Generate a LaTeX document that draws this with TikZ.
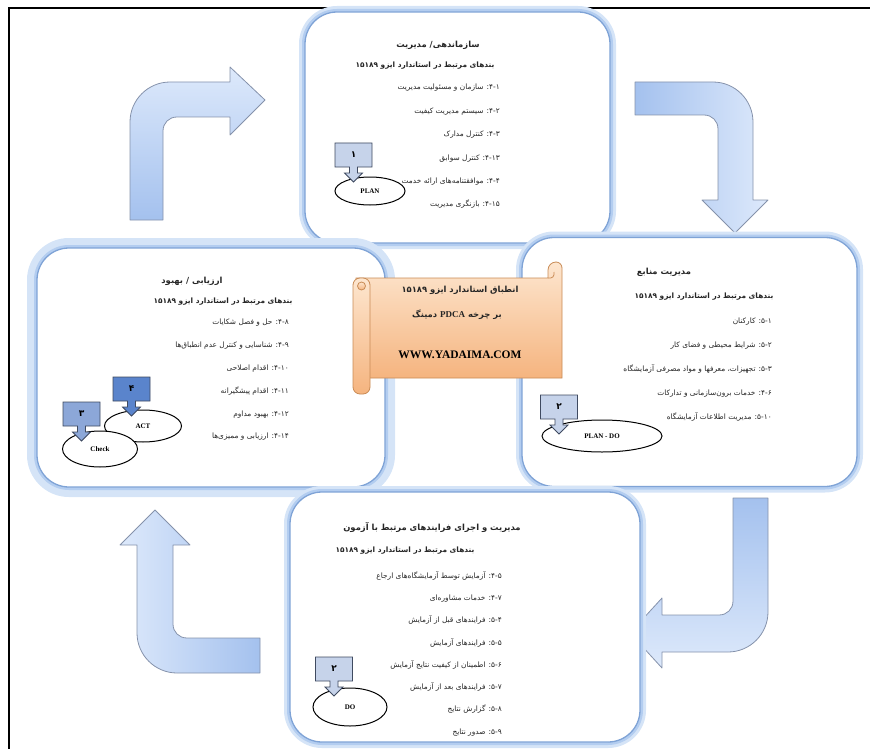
\documentclass[tikz,border=0pt]{standalone}
\usepackage{fontspec}
\setmainfont{Liberation Serif}
\newfontfamily\fa[Script=Arabic]{DejaVu Sans}
\TeXXeTstate=1
\newcommand\rline[1]{\beginR #1\endR}
\usetikzlibrary{shapes.geometric}

\definecolor{panelline}{HTML}{7FA3D6}
\definecolor{panelglow}{HTML}{B3CDF0}
\definecolor{arrowdeep}{HTML}{A4C1EE}
\definecolor{arrowpale}{HTML}{DDE9FB}
\definecolor{arrowedge}{HTML}{8592AB}
\definecolor{scrolltop}{HTML}{FDE6CF}
\definecolor{scrollbot}{HTML}{F5B47F}
\definecolor{scrolledge}{HTML}{C98B55}
\definecolor{tagline}{HTML}{3F4A60}
\definecolor{tagpale}{HTML}{C6D3EA}
\definecolor{tagmid}{HTML}{8CA7D8}
\definecolor{tagdeep}{HTML}{5A84CC}
\definecolor{inkgray}{HTML}{262626}

\tikzset{
  panel/.style={rounded corners=32pt, fill=white, draw=panelline, line width=1.3pt,
    preaction={draw=panelglow!55, line width=#1}, preaction={draw=panelglow, line width=6pt}},
  panel/.default=12pt,
  bentarrow/.style={draw=arrowedge, line width=0.8pt, line join=round},
  scrollpart/.style={draw=scrolledge, line width=0.8pt, top color=scrolltop, bottom color=scrollbot},
  head/.style={font=\fa\bfseries\fontsize{8.4}{10}\selectfont, text=inkgray, inner sep=0pt},
  band/.style={font=\fa\bfseries\fontsize{7.4}{9}\selectfont, text=inkgray, inner sep=0pt},
  clauses/.style={font=\fa\fontsize{7.4}{#1}\selectfont, text=inkgray, align=right,
    anchor=north east, inner sep=0pt},
  tagoval/.style={ellipse, draw=black, line width=1pt, fill=white, inner sep=0pt,
    font=\bfseries\fontsize{7}{8}\selectfont},
  tagnum/.style={font=\fa\bfseries\fontsize{9}{10}\selectfont, inner sep=0pt},
  pics/tagbox/.style n args={2}{code={
    \filldraw[fill=#2, draw=tagline, line width=0.8pt] (-18.5,-12) -- (18.5,-12) -- (18.5,12)
      -- (4,12) -- (4,18) -- (9,18) -- (0,27) -- (-9,18) -- (-4,18) -- (-4,12) -- (-18.5,12) -- cycle;
    \node[tagnum] (-num) at (0,0) {#1};
  }}
}

\begin{document}
\begin{tikzpicture}[x=1pt, y=-1pt]
\useasboundingbox (0,0) rectangle (870,749);
\draw[line width=1.2pt] (8,8) -- (870,8);
\draw[line width=1.2pt] (9,8) -- (9,749);

\draw[bentarrow, bottom color=arrowdeep, top color=arrowpale] (130,220) -- (130,122)
  .. controls (130,100) and (148,82) .. (170,82) -- (230,82) -- (230,67) -- (265,100) -- (230,135)
  -- (230,117) -- (177,117) .. controls (169,117) and (163,123) .. (163,131) -- (163,220) -- cycle;
\draw[bentarrow, left color=arrowdeep, right color=arrowpale] (635,82) -- (713,82)
  .. controls (735,82) and (753,100) .. (753,122) -- (753,200) -- (768,200) -- (735,233) -- (702,200)
  -- (718,200) -- (718,129) .. controls (718,121) and (712,115) .. (704,115) -- (635,115) -- cycle;
\draw[bentarrow, top color=arrowdeep, bottom color=arrowpale] (733,498) -- (768,498) -- (768,612)
  .. controls (768,634) and (750,652) .. (728,652) -- (662,652) -- (662,668) -- (630,633) -- (662,598)
  -- (662,615) -- (719,615) .. controls (727,615) and (733,609) .. (733,601) -- cycle;
\draw[bentarrow, right color=arrowdeep, left color=arrowpale] (260,638) -- (260,673) -- (177,673)
  .. controls (155,673) and (137,655) .. (137,633) -- (137,545) -- (120,545) -- (155,510) -- (190,545)
  -- (173,545) -- (173,624) .. controls (173,632) and (179,638) .. (187,638) -- cycle;

\node[panel, minimum width=305pt, minimum height=231pt] (plan) at (457.5,127.5) {};
\node[panel, minimum width=335pt, minimum height=249pt] (res) at (689.5,362) {};
\node[panel=20pt, minimum width=348pt, minimum height=239pt] (eval) at (211,367.5) {};
\node[panel, minimum width=350pt, minimum height=250pt] (proc) at (465,617) {};

\node[head] (planhead) at (438,45) {\rline{سازماندهی/ مدیریت}};
\node[band] (planband) at (425,66) {\rline{بندهای مرتبط در استاندارد ایزو ۱۵۱۸۹}};
\node[clauses=23.4] (planitems) at (500,84) {\rline{۴-۱: سازمان و مسئولیت مدیریت}\\
  \rline{۴-۲: سیستم مدیریت کیفیت}\\ \rline{۴-۳: کنترل مدارک}\\ \rline{۴-۱۳: کنترل سوابق}\\
  \rline{۴-۴: موافقتنامه‌های ارائه خدمت}\\ \rline{۴-۱۵: بازنگری مدیریت}};

\node[head] (reshead) at (664,272) {\rline{مدیریت منابع}};
\node[band] (resband) at (704,297) {\rline{بندهای مرتبط در استاندارد ایزو ۱۵۱۸۹}};
\node[clauses=24] (resitems) at (772,318) {\rline{۵-۱: کارکنان}\\ \rline{۵-۲: شرایط محیطی و فضای کار}\\
  \rline{۵-۳: تجهیزات، معرفها و مواد مصرفی آزمایشگاه}\\ \rline{۴-۶: خدمات برون‌سازمانی و تدارکات}\\
  \rline{۵-۱۰: مدیریت اطلاعات آزمایشگاه}};

\node[head] (evalhead) at (192,281) {\rline{ارزیابی / بهبود}};
\node[band] (evalband) at (223,302) {\rline{بندهای مرتبط در استاندارد ایزو ۱۵۱۸۹}};
\node[clauses=22.8] (evalitems) at (289,319) {\rline{۴-۸: حل و فصل شکایات}\\
  \rline{۴-۹: شناسایی و کنترل عدم انطباق‌ها}\\ \rline{۴-۱۰: اقدام اصلاحی}\\ \rline{۴-۱۱: اقدام پیشگیرانه}\\
  \rline{۴-۱۲: بهبود مداوم}\\ \rline{۴-۱۴: ارزیابی و ممیزی‌ها}};

\node[head] (prochead) at (432,528) {\rline{مدیریت و اجرای فرایندهای مرتبط با آزمون}};
\node[band] (procband) at (405,551) {\rline{بندهای مرتبط در استاندارد ایزو ۱۵۱۸۹}};
\node[clauses=22.3] (procitems) at (502,571) {\rline{۴-۵: آزمایش توسط آزمایشگاه‌های ارجاع}\\
  \rline{۴-۷: خدمات مشاوره‌ای}\\ \rline{۵-۴: فرایندهای قبل از آزمایش}\\ \rline{۵-۵: فرایندهای آزمایش}\\
  \rline{۵-۶: اطمینان از کیفیت نتایج آزمایش}\\ \rline{۵-۷: فرایندهای بعد از آزمایش}\\
  \rline{۵-۸: گزارش نتایج}\\ \rline{۵-۹: صدور نتایج}};

\draw[scrollpart] (356,278) -- (548,278) -- (548,270) .. controls (548,265.6) and (551.6,262) .. (556,262)
  .. controls (559.3,262) and (562,264.7) .. (562,268) -- (562,378) -- (356,378) -- cycle;
\draw[scrolledge, line width=0.8pt] (548,278) .. controls (552,279) and (555,276) .. (554,272);
\draw[scrollpart, rounded corners=7pt] (353,278) rectangle (370,394);
\draw[scrollpart] (361.5,286) circle[radius=4];
\node[head] (scrollone) at (460,290) {\rline{انطباق استاندارد ایزو ۱۵۱۸۹}};
\node[head] (scrolltwo) at (457,315) {\rline{بر چرخه \beginL\textrm{\fontsize{9}{10}\selectfont PDCA}\endL{} دمینگ}};
\node[font=\bfseries\fontsize{11.5}{13}\selectfont, inner sep=0pt] (site) at (460,355) {WWW.YADAIMA.COM};

\node[tagoval, minimum width=70pt, minimum height=28pt] (planoval) at (370,191) {PLAN};
\pic (plantag) at (353.5,155) {tagbox={۱}{tagpale}};
\node[tagoval, minimum width=120pt, minimum height=32pt] (resoval) at (602,436) {PLAN - DO};
\pic (restag) at (559,407) {tagbox={۲}{tagpale}};
\node[tagoval, minimum width=77pt, minimum height=32pt] (actoval) at (143,426) {ACT};
\pic (acttag) at (131.5,389) {tagbox={۴}{tagdeep}};
\node[tagoval, minimum width=75pt, minimum height=36pt] (checkoval) at (100,449) {Check};
\pic (checktag) at (81.5,414) {tagbox={۳}{tagmid}};
\node[tagoval, minimum width=74pt, minimum height=38pt] (dooval) at (350,707) {DO};
\pic (dotag) at (334,669) {tagbox={۲}{tagpale}};
\end{tikzpicture}
\end{document}
